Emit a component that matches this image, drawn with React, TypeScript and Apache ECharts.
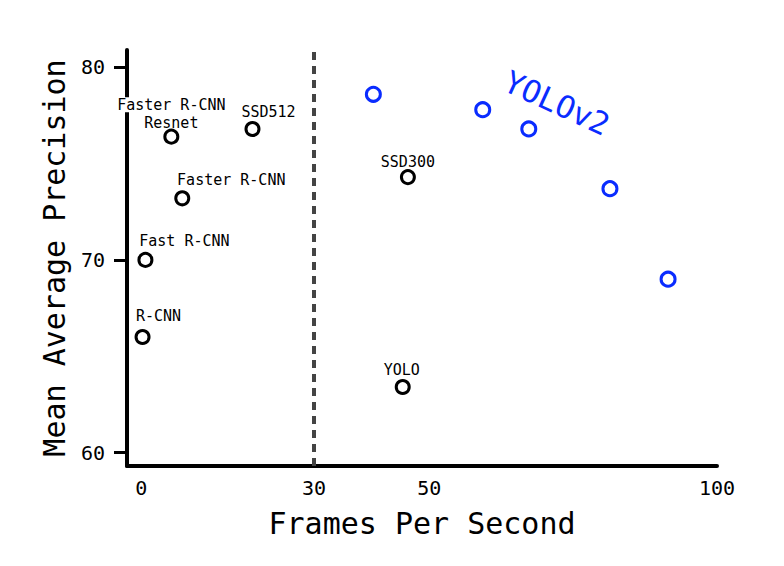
import React, { useEffect, useRef } from "react";
import * as echarts from "echarts";

const detectorNames = ["R-CNN", "Fast R-CNN", "Faster R-CNN", "Faster R-CNN\nResnet", "SSD512", "SSD300", "YOLO"];
const detectorFps = [0.2, 0.7, 7.1, 5.2, 19.3, 46.3, 45.4];
const detectorMap = [66.0, 70.0, 73.2, 76.4, 76.8, 74.3, 63.4];

const yolov2Fps = [40.3, 59.3, 67.3, 81.4, 91.5];
const yolov2Map = [78.6, 77.8, 76.8, 73.7, 69.0];

const xTickValues = [0, 30, 50, 100];
const yTickValues = [60, 70, 80];
const realTimeFps = 30;

// label offsets (style only), relative to a centered "top" label
const labelOffsets: [number, number][] = [
  [16, -3],
  [39, -1],
  [49, -1],
  [0, 5],
  [16, 1],
  [0, 2],
  [-1, 0],
];

const FONT = "DejaVu Sans Mono";
const BLUE = "#0a2cff";

export default function App() {
  const ref = useRef<HTMLDivElement>(null);
  useEffect(() => {
    if (!ref.current) return;
    const chart = echarts.init(ref.current, undefined, { renderer: "svg" });
    const detectorData = detectorFps.map((x, i) => {
      const name = detectorNames[i];
      const isResnet = name.includes("\n");
      return {
        value: [x, detectorMap[i]],
        name,
        label: {
          show: true,
          position: "top",
          distance: 2,
          offset: labelOffsets[i],
          formatter: isResnet ? "{a|Faster R-CNN}\n{b|Resnet}" : name,
          rich: isResnet
            ? {
                a: { fontFamily: FONT, fontSize: 15, color: "#000", lineHeight: 18, backgroundColor: "#fff" },
                b: { fontFamily: FONT, fontSize: 15, color: "#000", lineHeight: 18 },
              }
            : undefined,
        },
      };
    });
    chart.setOption({
      animation: false,
      backgroundColor: "#fff",
      grid: { left: 127, right: 67, top: 50, bottom: 100, containLabel: false },
      xAxis: {
        type: "value",
        min: -2.5,
        max: 100,
        name: "Frames Per Second",
        nameLocation: "middle",
        nameGap: 42,
        nameTextStyle: { fontFamily: FONT, fontSize: 30, color: "#000" },
        axisLine: { show: true, onZero: false, lineStyle: { color: "#000", width: 4 } },
        axisTick: { show: false },
        axisLabel: { customValues: xTickValues, fontFamily: FONT, fontSize: 20, color: "#000", margin: 12 },
        splitLine: { show: false },
      },
      yAxis: {
        type: "value",
        min: 59.3,
        max: 80.9,
        name: "Mean Average Precision",
        nameLocation: "middle",
        nameGap: 58,
        nameTextStyle: { fontFamily: FONT, fontSize: 30, color: "#000" },
        axisLine: { show: true, onZero: false, lineStyle: { color: "#000", width: 4 } },
        axisTick: { show: true, customValues: yTickValues, length: 13, lineStyle: { color: "#000", width: 3 } },
        axisLabel: { customValues: yTickValues, fontFamily: FONT, fontSize: 20, color: "#000", margin: 22 },
        splitLine: { show: false },
      },
      series: [
        {
          type: "scatter",
          name: "Detectors",
          symbol: "circle",
          symbolSize: 13,
          itemStyle: { color: "rgba(0,0,0,0)", borderColor: "#000", borderWidth: 3, opacity: 1 },
          label: { fontFamily: FONT, fontSize: 15, color: "#000", lineHeight: 15 },
          data: detectorData,
          markLine: {
            silent: true,
            symbol: "none",
            label: { show: false },
            lineStyle: { color: "#444", width: 4, type: [8, 6], opacity: 1 },
            data: [{ xAxis: realTimeFps }],
          },
          z: 3,
        },
        {
          type: "scatter",
          name: "YOLOv2",
          symbol: "circle",
          symbolSize: 14,
          itemStyle: { color: "rgba(0,0,0,0)", borderColor: BLUE, borderWidth: 3, opacity: 1 },
          data: yolov2Fps.map((x, i) => [x, yolov2Map[i]]),
          z: 3,
        },
      ],
      graphic: [
        {
          type: "text",
          x: 557,
          y: 103,
          rotation: -0.43,
          style: {
            text: "YOLOv2",
            fontFamily: FONT,
            fontSize: 31,
            fill: BLUE,
            align: "center",
            verticalAlign: "middle",
          },
        },
      ],
    });
    return () => chart.dispose();
  }, []);
  return <div ref={ref} style={{ position: "absolute", left: 0, top: 0, width: 784, height: 566 }} />;
}
